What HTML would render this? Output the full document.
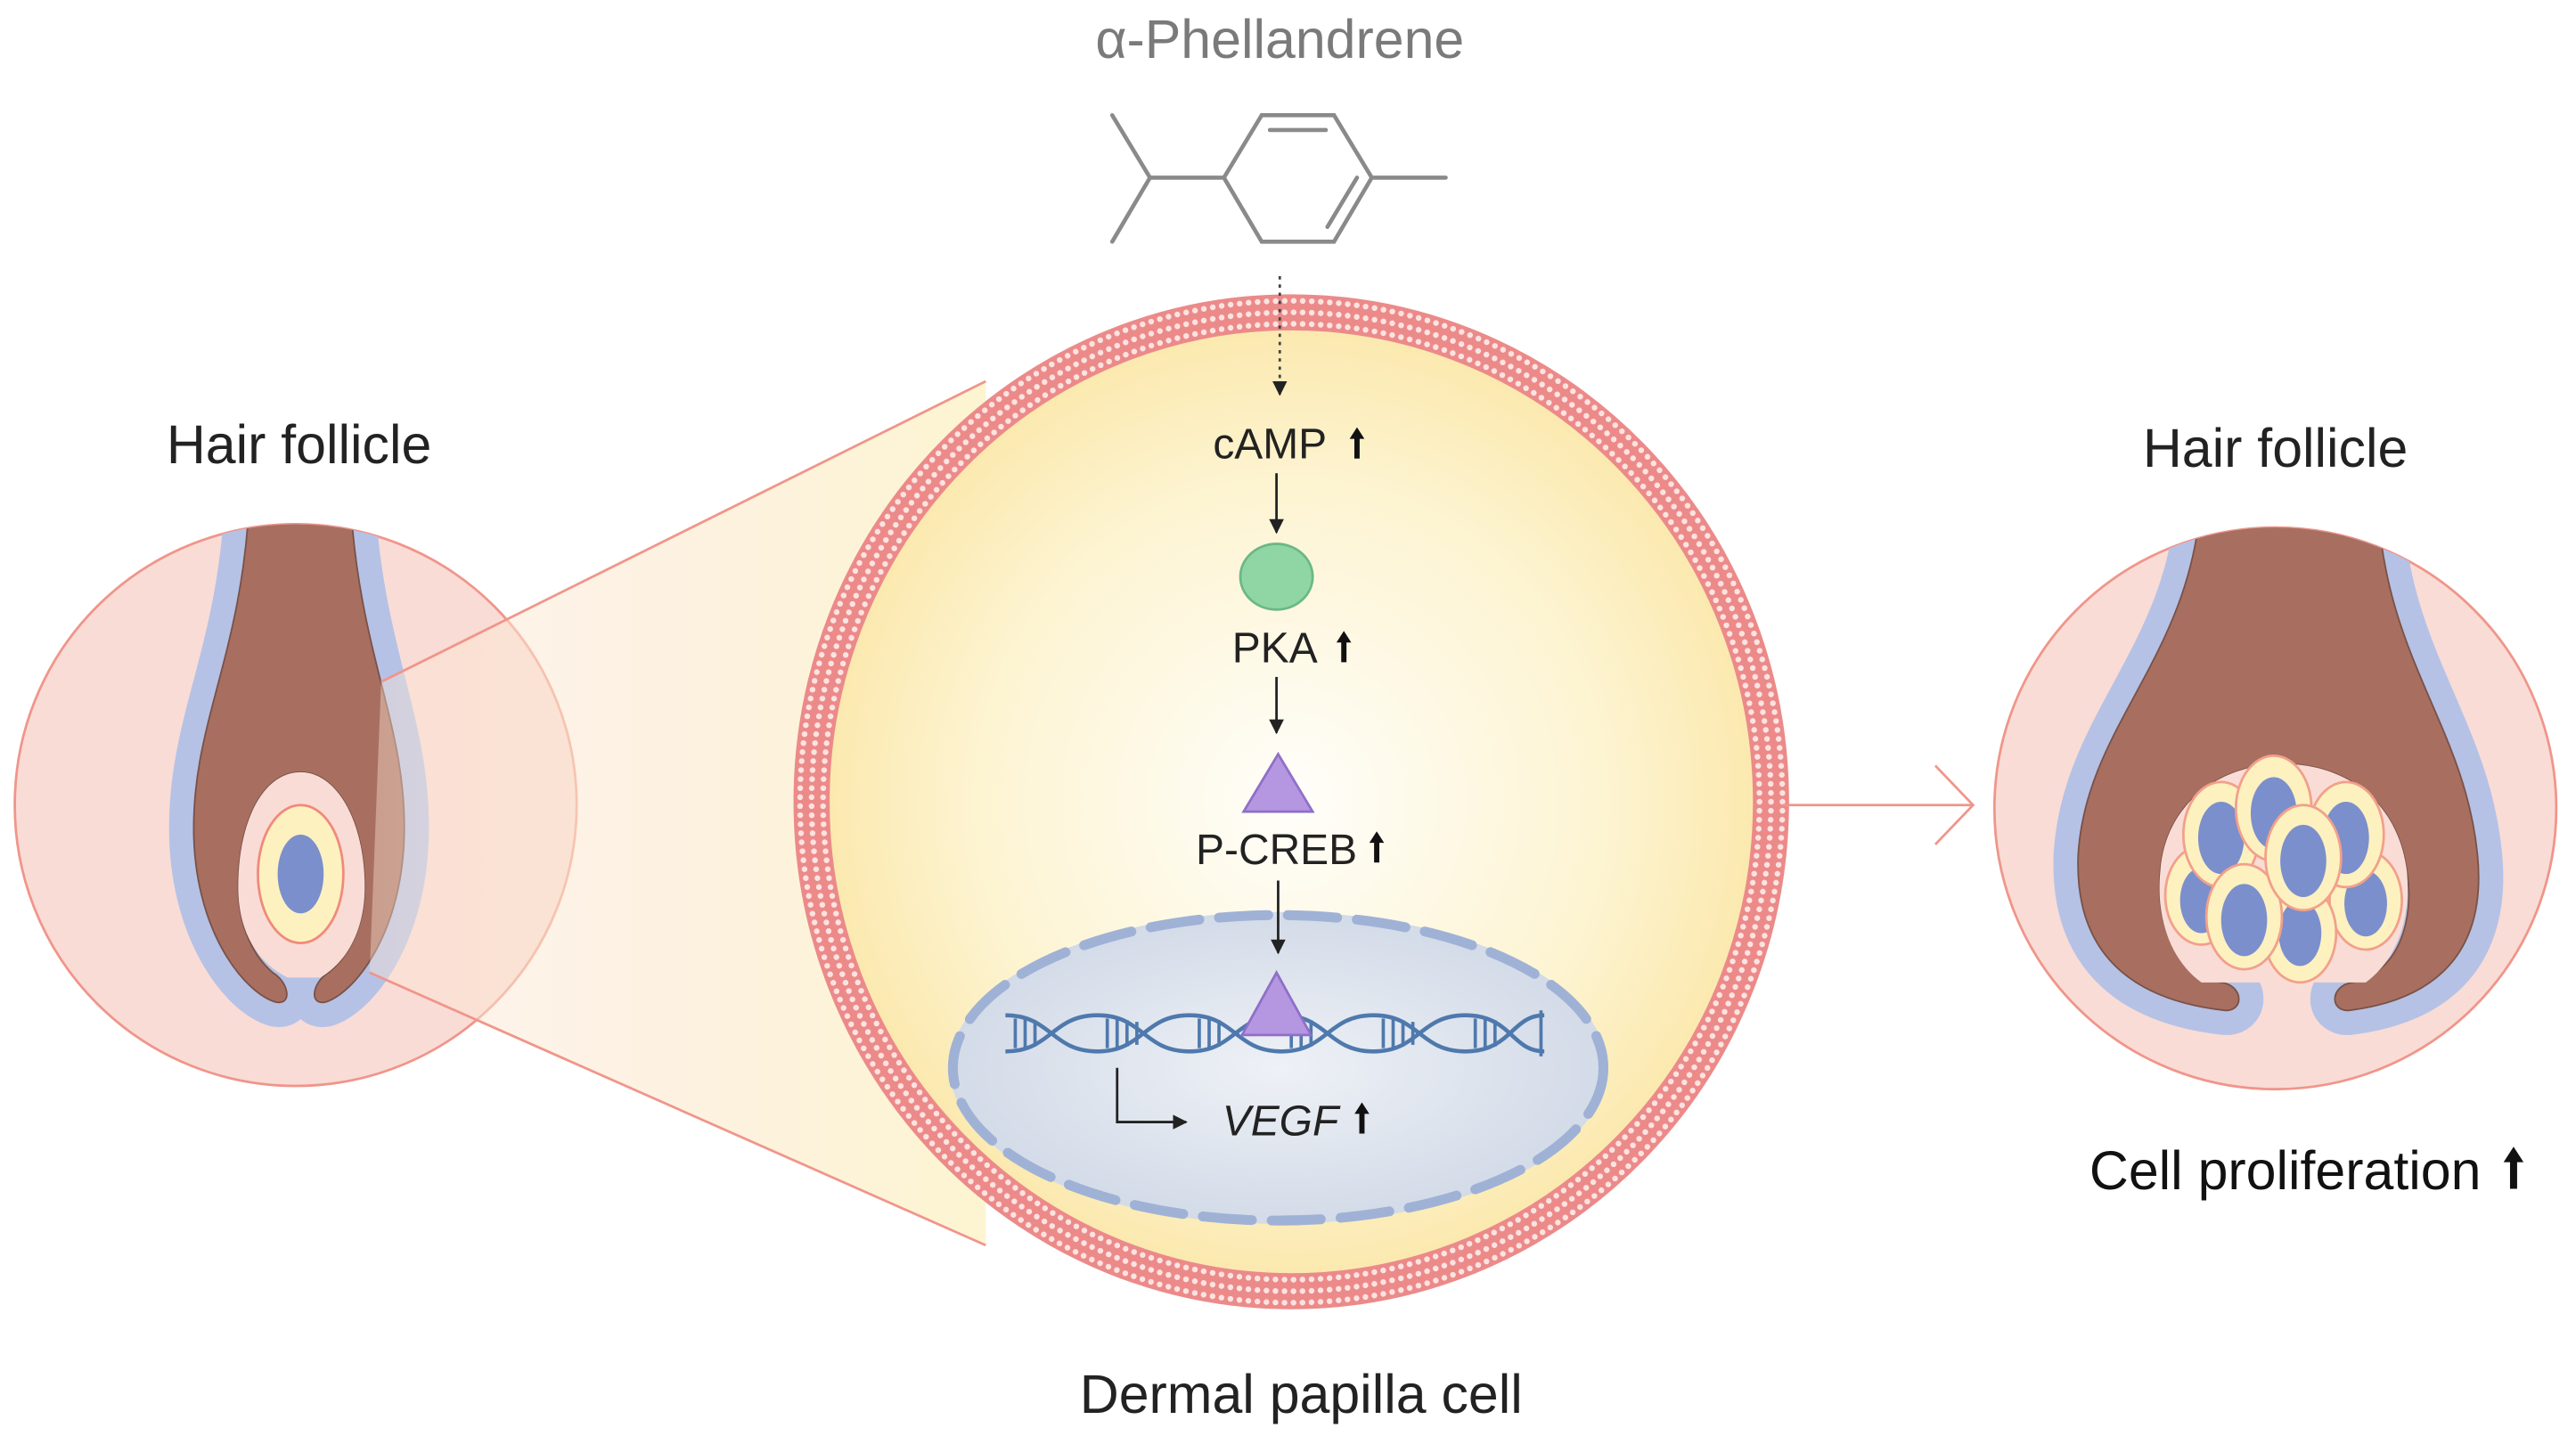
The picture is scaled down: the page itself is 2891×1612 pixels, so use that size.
<!DOCTYPE html>
<html><head><meta charset="utf-8"><style>
html,body{margin:0;padding:0;background:#fff;}
svg{display:block;}
text{font-family:"Liberation Sans",Arial,sans-serif;}
</style></head><body>
<svg width="2891" height="1612" viewBox="0 0 1568 874" xmlns="http://www.w3.org/2000/svg">
<defs>
<radialGradient id="cellg" cx="50%" cy="50%" r="50%">
<stop offset="0" stop-color="#fffefa"/><stop offset="0.65" stop-color="#fdf4d2"/><stop offset="1" stop-color="#fbe8ac"/>
</radialGradient>
<linearGradient id="coneg" x1="0" y1="0" x2="1" y2="0">
<stop offset="0" stop-color="#fbe4d4" stop-opacity="0.4"/><stop offset="1" stop-color="#fdf3cc" stop-opacity="0.9"/>
</linearGradient>
<radialGradient id="nucg" cx="50%" cy="50%" r="50%">
<stop offset="0" stop-color="#eef1f6"/><stop offset="1" stop-color="#d3dbe8"/>
</radialGradient>
<clipPath id="cl"><circle cx="180" cy="490" r="171"/></clipPath>
<clipPath id="cr"><circle cx="1385" cy="492" r="171"/></clipPath>
<marker id="ah" viewBox="0 0 10 10" refX="9" refY="5" markerWidth="6" markerHeight="6" orient="auto"><path d="M0,0 L10,5 L0,10 z" fill="#222"/></marker>
<path id="up" d="M-1.6,19 L-1.6,7 L-4.5,7 L0,0 L4.5,7 L1.6,7 L1.6,19 Z" fill="#111"/>
</defs>

<!-- Left follicle -->
<circle cx="180" cy="490" r="171" fill="#f9dcd6" stroke="#f0958a" stroke-width="1.5"/>
<g clip-path="url(#cl)">
<path d="M152,300 L213,300 C218,400 248,440 246,510 C244,570 215,605 198,610 C188,612 190,598 200,592 C215,580 222,560 222,540 C222,500 205,470 183,470 C160,470 145,500 145,540 C145,560 152,580 166,592 C176,598 178,612 168,610 C150,605 120,570 118,510 C116,440 148,400 152,300 Z" fill="#b5c2e6" stroke="#b5c2e6" stroke-width="30" stroke-linejoin="round"/>
<path d="M152,300 L213,300 C218,400 248,440 246,510 C244,570 215,605 198,610 C188,612 190,598 200,592 C215,580 222,560 222,540 C222,500 205,470 183,470 C160,470 145,500 145,540 C145,560 152,580 166,592 C176,598 178,612 168,610 C150,605 120,570 118,510 C116,440 148,400 152,300 Z" fill="#a86f60" stroke="#7a5248" stroke-width="1"/>
<path d="M183,470 C205,470 222,500 222,540 C222,565 212,585 195,595 L175,595 C155,585 145,565 145,540 C145,500 160,470 183,470 Z" fill="#f9dcd6"/>
<ellipse cx="183" cy="532" rx="26" ry="42" fill="#fdf1c0" stroke="#f08a7a" stroke-width="1.5"/>
<ellipse cx="183" cy="532" rx="14" ry="24" fill="#7b8fcc"/>
</g>

<!-- cone -->
<polygon points="232,415 600,232 600,758 225,592" fill="url(#coneg)"/>
<line x1="232" y1="415" x2="600" y2="232" stroke="#f0958a" stroke-width="1.5"/>
<line x1="225" y1="592" x2="600" y2="758" stroke="#f0958a" stroke-width="1.5"/>

<!-- Cell -->
<ellipse cx="786" cy="488" rx="290" ry="296" fill="url(#cellg)"/>
<ellipse cx="786" cy="488" rx="292" ry="298" fill="none" stroke="#ec8a8a" stroke-width="22"/>
<ellipse cx="786" cy="488" rx="285" ry="291" fill="none" stroke="#fbe3e0" stroke-width="3.5" stroke-dasharray="0 5.5" stroke-linecap="round"/>
<ellipse cx="786" cy="488" rx="292" ry="298" fill="none" stroke="#fbe3e0" stroke-width="3.5" stroke-dasharray="0 5.5" stroke-linecap="round"/>
<ellipse cx="786" cy="488" rx="299" ry="305" fill="none" stroke="#fbe3e0" stroke-width="3.5" stroke-dasharray="0 5.5" stroke-linecap="round"/>

<!-- Nucleus -->
<ellipse cx="778" cy="650" rx="200" ry="95" fill="url(#nucg)"/>
<ellipse cx="778" cy="650" rx="198" ry="93" fill="none" stroke="#9fb2d6" stroke-width="6" stroke-dasharray="30 12" stroke-linecap="round"/>

<!-- DNA -->
<g stroke="#4f79ad" stroke-width="2.5" fill="none">
<path d="M612,618 C640,618 640,640 668,640 C696,640 696,618 724,618 C752,618 752,640 780,640 C808,640 808,618 836,618 C864,618 864,640 892,640 C920,640 920,618 940,618"/>
<path d="M612,640 C640,640 640,618 668,618 C696,618 696,640 724,640 C752,640 752,618 780,618 C808,618 808,640 836,640 C864,640 864,618 892,618 C920,618 920,640 940,640"/>
</g>
<g stroke="#4f79ad" stroke-width="2">
<line x1="618" y1="620" x2="618" y2="638"/><line x1="624" y1="620" x2="624" y2="638"/><line x1="630" y1="621" x2="630" y2="637"/>
<line x1="674" y1="620" x2="674" y2="638"/><line x1="680" y1="620" x2="680" y2="638"/><line x1="686" y1="621" x2="686" y2="637"/><line x1="692" y1="622" x2="692" y2="636"/>
<line x1="730" y1="620" x2="730" y2="638"/><line x1="736" y1="620" x2="736" y2="638"/><line x1="742" y1="621" x2="742" y2="637"/>
<line x1="786" y1="620" x2="786" y2="638"/><line x1="792" y1="620" x2="792" y2="638"/><line x1="798" y1="621" x2="798" y2="637"/>
<line x1="842" y1="620" x2="842" y2="638"/><line x1="848" y1="620" x2="848" y2="638"/><line x1="854" y1="621" x2="854" y2="637"/><line x1="860" y1="622" x2="860" y2="636"/>
<line x1="898" y1="620" x2="898" y2="638"/><line x1="904" y1="620" x2="904" y2="638"/><line x1="910" y1="621" x2="910" y2="637"/><line x1="938" y1="615" x2="938" y2="643"/>
</g>
<polygon points="777,592 756,630 798,630" fill="#b596e0" stroke="#8f6fc8" stroke-width="1.5"/>

<!-- bent arrow -->
<polyline points="680,650 680,683 722,683" fill="none" stroke="#222" stroke-width="1.5" marker-end="url(#ah)"/>
<text x="744" y="691" font-size="26" font-style="italic" fill="#222">VEGF</text>
<use href="#up" transform="translate(829,671)"/>

<!-- pathway -->
<line x1="779" y1="168" x2="779" y2="240" stroke="#444" stroke-width="1.5" stroke-dasharray="2 3" marker-end="url(#ah)"/>
<text x="773" y="279" font-size="26" text-anchor="middle" fill="#222">cAMP</text>
<use href="#up" transform="translate(826,260)"/>
<line x1="777" y1="288" x2="777" y2="324" stroke="#222" stroke-width="1.5" marker-end="url(#ah)"/>
<ellipse cx="777" cy="351" rx="22" ry="20" fill="#8fd6a4" stroke="#6bb884" stroke-width="1.5"/>
<text x="776" y="403" font-size="26" text-anchor="middle" fill="#222">PKA</text>
<use href="#up" transform="translate(818,384)"/>
<line x1="777" y1="412" x2="777" y2="446" stroke="#222" stroke-width="1.5" marker-end="url(#ah)"/>
<polygon points="778,459 757,494 799,494" fill="#b596e0" stroke="#8f6fc8" stroke-width="1.5"/>
<text x="777" y="526" font-size="26" text-anchor="middle" fill="#222">P-CREB</text>
<use href="#up" transform="translate(838,506)"/>
<line x1="778" y1="536" x2="778" y2="580" stroke="#222" stroke-width="1.5" marker-end="url(#ah)"/>

<!-- molecule -->
<g stroke="#8a8a8a" stroke-width="2.5" fill="none" stroke-linecap="round">
<polyline points="745,108 768,70 812,70 835,108 812,147 768,147 745,108"/>
<line x1="745" y1="108" x2="700" y2="108"/><line x1="700" y1="108" x2="677" y2="70"/><line x1="700" y1="108" x2="677" y2="147"/>
<line x1="835" y1="108" x2="880" y2="108"/>
<line x1="773" y1="79" x2="807" y2="79"/><line x1="808" y1="138" x2="826" y2="108"/>
</g>
<text x="779" y="35" font-size="33" text-anchor="middle" fill="#7a7a7a">α-Phellandrene</text>

<!-- right arrow -->
<line x1="1085" y1="490" x2="1200" y2="490" stroke="#f0958a" stroke-width="1.5"/>
<polyline points="1178,466 1201,490 1178,514" fill="none" stroke="#f0958a" stroke-width="1.5"/>

<!-- Right follicle -->
<circle cx="1385" cy="492" r="171" fill="#f9dcd6" stroke="#f0958a" stroke-width="1.5"/>
<g clip-path="url(#cr)">
<path d="M1340,300 L1447,300 C1450,400 1500,440 1508,520 C1515,590 1470,610 1430,615 C1418,616 1418,600 1432,598 C1460,592 1470,560 1465,530 C1460,490 1430,465 1390,465 C1350,465 1318,490 1315,530 C1312,565 1325,592 1352,598 C1366,600 1366,616 1354,615 C1310,610 1262,590 1265,520 C1270,440 1335,400 1340,300 Z" fill="#b5c2e6" stroke="#b5c2e6" stroke-width="30" stroke-linejoin="round"/>
<path d="M1340,300 L1447,300 C1450,400 1500,440 1508,520 C1515,590 1470,610 1430,615 C1418,616 1418,600 1432,598 C1460,592 1470,560 1465,530 C1460,490 1430,465 1390,465 C1350,465 1318,490 1315,530 C1312,565 1325,592 1352,598 C1366,600 1366,616 1354,615 C1310,610 1262,590 1265,520 C1270,440 1335,400 1340,300 Z" fill="#a86f60" stroke="#7a5248" stroke-width="1"/>
<path d="M1390,465 C1430,465 1460,490 1465,530 C1468,560 1458,585 1440,598 L1340,598 C1322,585 1312,560 1315,530 C1318,490 1350,465 1390,465 Z" fill="#f9dcd6"/>
<g stroke="#f2a08a" stroke-width="1.5">
<ellipse cx="1340" cy="545" rx="22" ry="30" fill="#fdf1c0"/><ellipse cx="1340" cy="548" rx="13" ry="20" fill="#7b8fcc" stroke="none"/>
<ellipse cx="1440" cy="548" rx="22" ry="30" fill="#fdf1c0"/><ellipse cx="1440" cy="550" rx="13" ry="20" fill="#7b8fcc" stroke="none"/>
<ellipse cx="1400" cy="568" rx="22" ry="30" fill="#fdf1c0"/><ellipse cx="1400" cy="568" rx="13" ry="20" fill="#7b8fcc" stroke="none"/>
<ellipse cx="1352" cy="508" rx="23" ry="32" fill="#fdf1c0"/><ellipse cx="1352" cy="510" rx="14" ry="22" fill="#7b8fcc" stroke="none"/>
<ellipse cx="1384" cy="492" rx="23" ry="32" fill="#fdf1c0"/><ellipse cx="1384" cy="495" rx="14" ry="22" fill="#7b8fcc" stroke="none"/>
<ellipse cx="1428" cy="508" rx="23" ry="32" fill="#fdf1c0"/><ellipse cx="1428" cy="510" rx="14" ry="22" fill="#7b8fcc" stroke="none"/>
<ellipse cx="1366" cy="558" rx="23" ry="32" fill="#fdf1c0"/><ellipse cx="1366" cy="560" rx="14" ry="22" fill="#7b8fcc" stroke="none"/>
<ellipse cx="1402" cy="522" rx="23" ry="32" fill="#fdf1c0"/><ellipse cx="1402" cy="524" rx="14" ry="22" fill="#7b8fcc" stroke="none"/>
</g>
</g>

<!-- labels -->
<text x="182" y="282" font-size="33" text-anchor="middle" fill="#222">Hair follicle</text>
<text x="1385" y="284" font-size="33" text-anchor="middle" fill="#222">Hair follicle</text>
<text x="1391" y="724" font-size="33" text-anchor="middle" fill="#111">Cell proliferation</text>
<use href="#up" transform="translate(1530,698) scale(1.35)"/>
<text x="792" y="860" font-size="33" text-anchor="middle" fill="#222">Dermal papilla cell</text>
</svg>
</body></html>
